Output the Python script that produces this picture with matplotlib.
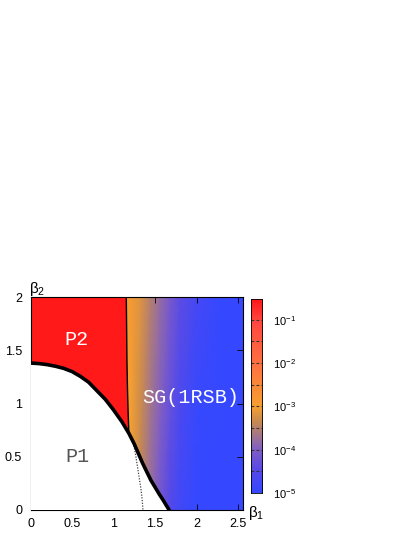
import numpy as np
import matplotlib
matplotlib.use("Agg")
import matplotlib.pyplot as plt
from matplotlib.colors import LinearSegmentedColormap
from matplotlib import font_manager

# ---- data ----
# thick P1/P2-SG boundary
curve_b1 = [0.0, 0.1, 0.2, 0.3, 0.4, 0.5, 0.6, 0.7, 0.8, 0.9, 1.0, 1.1, 1.185,
            1.25, 1.3, 1.35, 1.4, 1.45, 1.5, 1.55, 1.6, 1.67]
curve_b2 = [1.38, 1.375, 1.365, 1.35, 1.33, 1.30, 1.255, 1.20, 1.12, 1.04, 0.94,
            0.83, 0.72, 0.62, 0.53, 0.44, 0.36, 0.28, 0.215, 0.15, 0.09, 0.0]
# thin P2/SG boundary
thin_b1 = [1.154, 1.158, 1.162, 1.168, 1.176, 1.185]
thin_b2 = [2.0, 1.7, 1.4, 1.15, 0.92, 0.72]
# dotted continuation
dot_b1 = [1.24, 1.27, 1.29, 1.31, 1.33, 1.345, 1.355]
dot_b2 = [0.63, 0.5, 0.4, 0.3, 0.2, 0.1, 0.0]
# log10 of colour value in SG, on a coarse grid
grid_b1 = [1.10, 1.20, 1.33, 1.44, 1.56, 1.68, 1.80, 2.00, 2.30, 2.60]
grid_b2 = [0.0, 0.8, 2.0]
grid_log = [
    [-2.95, -3.1, -3.45, -3.8, -4.15, -4.5, -4.8, -5.0, -5.0, -5.0],
    [-2.9, -3.0, -3.35, -3.7, -4.0, -4.35, -4.65, -4.95, -5.0, -5.0],
    [-2.8, -2.9, -3.2, -3.5, -3.8, -4.1, -4.4, -4.75, -5.0, -5.0],
]
p2_log = -0.55
cb_ticks = [-5, -4, -3, -2, -1]
cb_min, cb_max = -5.0, -0.52
x_ticks = [0, 0.5, 1, 1.5, 2, 2.5]
y_ticks = [0, 0.5, 1, 1.5, 2]

# colormap nodes (log value, colour)
cm_nodes = [(-5.0, "#3548ff"), (-4.5, "#5548ea"), (-4.0, "#805ec4"),
            (-3.7, "#a07490"), (-3.35, "#c88a50"), (-3.0, "#f6a030"),
            (-2.0, "#ff7040"), (-1.0, "#ff4540"), (-0.52, "#ff1818")]
span = cb_max - cb_min
cmap = LinearSegmentedColormap.from_list(
    "gp", [((v - cb_min) / span, c) for v, c in cm_nodes])

avail = {f.name for f in font_manager.fontManager.ttflist}
mono = next((n for n in ["Liberation Mono", "DejaVu Sans Mono", "Noto Sans Mono"] if n in avail), "monospace")
sans = "Liberation Sans" if "Liberation Sans" in avail else "DejaVu Sans"

plt.rcParams["font.family"] = [sans, "DejaVu Sans"]
plt.rcParams["mathtext.fontset"] = "custom"
plt.rcParams["mathtext.rm"] = sans
plt.rcParams["mathtext.it"] = sans
plt.rcParams["mathtext.bf"] = sans

fig = plt.figure(figsize=(4.15, 5.37), dpi=100)
ax = fig.add_axes([30.5 / 415, 27 / 537, 212.5 / 415, 213 / 537])

X, Y = np.meshgrid(grid_b1, grid_b2)
ax.pcolormesh(X, Y, np.array(grid_log), cmap=cmap, vmin=cb_min, vmax=cb_max,
              shading="gouraud", zorder=1)

# P2 region
p2_x = list(thin_b1) + [b for b in curve_b1 if b <= thin_b1[-1]][::-1] + [0.0]
p2_y = list(thin_b2) + [v for b, v in zip(curve_b1, curve_b2) if b <= thin_b1[-1]][::-1] + [2.0]
ax.fill(p2_x, p2_y, color=cmap((p2_log - cb_min) / span), lw=0, zorder=2)
# P1 region
ax.fill(list(curve_b1) + [0.0], list(curve_b2) + [0.0], color="white", lw=0, zorder=3)

ax.plot(dot_b1, dot_b2, color="#444444", lw=0.9, ls=(0, (1, 1.2)), zorder=4)
ax.plot(thin_b1, thin_b2, color="black", lw=1.0, zorder=5)
ax.plot(curve_b1, curve_b2, color="black", lw=2.6, zorder=6, solid_joinstyle="round")

ax.set_xlim(0, 2.56)
ax.set_ylim(0, 2)
ax.set_xticks(x_ticks)
ax.set_yticks(y_ticks)
ax.set_xticklabels([f"{t:g}" for t in x_ticks])
ax.set_yticklabels([f"{t:g}" for t in y_ticks])
ax.tick_params(direction="in", length=4, width=0.6, top=True, right=True,
               labelsize=9, pad=6)
for s in ax.spines.values():
    s.set_linewidth(0.8)

ax.text(0.56, 1.60, "P2", color="white", fontsize=14.5, family=mono, ha="center", va="center", zorder=7)
ax.text(0.57, 0.50, "P1", color="#555555", fontsize=14.5, family=mono, ha="center", va="center", zorder=7)
ax.text(1.93, 1.06, "SG(1RSB)", color="white", fontsize=14.5, family=mono, ha="center", va="center", zorder=7)

fig.text(37 / 415, 1 - 289 / 537, r"$\beta_2$", fontsize=11, ha="center", va="center")
fig.text(256 / 415, 1 - 513 / 537, r"$\beta_1$", fontsize=11, ha="center", va="center")

# colorbar
cax = fig.add_axes([251 / 415, 44 / 537, 11 / 415, 194 / 537])
grad = np.linspace(cb_min, cb_max, 256).reshape(-1, 1)
cax.imshow(grad, cmap=cmap, vmin=cb_min, vmax=cb_max, aspect="auto",
           origin="lower", extent=[0, 1, cb_min, cb_max])
for k in np.arange(-4.5, -0.9, 0.5):
    cax.axhline(k, color="#333333", lw=0.8, ls=(0, (2.5, 2)), xmin=0.0, xmax=1.0)
cax.set_xticks([])
cax.set_ylim(cb_min, cb_max)
cax.yaxis.tick_right()
cax.set_yticks(cb_ticks)
cax.set_yticklabels([rf"$10^{{{t}}}$" for t in cb_ticks])
cax.tick_params(axis="y", length=0, labelsize=8, pad=8)
for s in cax.spines.values():
    s.set_linewidth(0.6)

fig.savefig("out.png", dpi=100)
